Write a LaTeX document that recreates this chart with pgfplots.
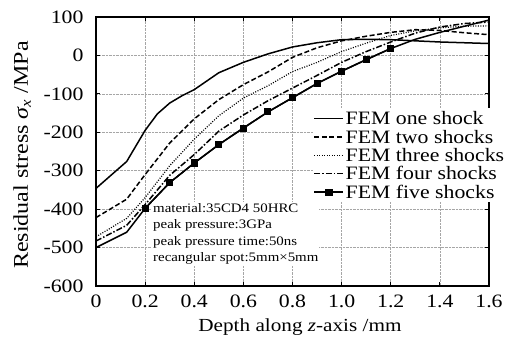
\documentclass[border=0pt]{standalone}
\usepackage{fontspec}
\setmainfont[FakeStretch=1.15]{Liberation Serif}
\usepackage{pgfplots}
\pgfplotsset{compat=1.18}

\begin{document}
\begin{tikzpicture}
\useasboundingbox (-96bp,-61bp) rectangle (409bp,286bp);
\begin{axis}[
  scale only axis, width=393bp, height=269bp,
  xmin=0, xmax=1.6, ymin=-600, ymax=100,
  xtick={0,0.2,0.4,0.6,0.8,1.0,1.2,1.4,1.6},
  xticklabels={0,0.2,0.4,0.6,0.8,1.0,1.2,1.4,1.6},
  ytick={-600,-500,-400,-300,-200,-100,0,100},
  yticklabels={-600,-500,-400,-300,-200,-100,0,100},
  grid=major,
  grid style={densely dotted, gray!70, line width=0.6bp},
  axis line style={line width=1.1bp},
  tick style={black, line width=0.8bp},
  major tick length=4bp,
  ticklabel style={font=\fontsize{19}{19}\selectfont},
  yticklabel style={xshift=-9bp},
  xticklabel style={yshift=-5bp},
  xlabel={Depth along \textit{z}-axis /mm},
  ylabel={Residual stress {\itshape σ}\textsubscript{\itshape x} /MPa},
  xlabel style={at={(axis description cs:0.519,0)}, anchor=center, yshift=-41bp, font=\fontsize{18.5}{18.5}\selectfont},
  ylabel style={at={(axis description cs:-0.188,0.487)}, anchor=center, rotate=0, font=\fontsize{21}{21}\selectfont},
  legend style={at={(axis cs:0.8816,-137)}, anchor=north west, draw=none, fill=white,
    font=\fontsize{19}{19}\selectfont, row sep=0pt, inner sep=1bp,
    nodes={text height=12.5bp, text depth=0bp, inner ysep=2.95bp, inner xsep=1.5bp}},
  legend cell align=left,
  legend image code/.code={\draw[mark repeat=2,mark phase=2,#1] plot coordinates {(0bp,0bp) (14.5bp,0bp) (29bp,0bp)};},
]
\addplot[black, line width=1.5bp] coordinates {
(0,-346) (0.125,-276) (0.2,-195) (0.25,-152) (0.3,-124) (0.35,-105) (0.4,-89) (0.5,-45) (0.6,-18) (0.7,4) (0.8,22) (0.9,33) (1.0,41) (1.1,42) (1.2,41) (1.3,38) (1.4,35) (1.5,33) (1.6,31)};
\addlegendentry{FEM one shock}
\addplot[black, line width=1.5bp, dash pattern=on 5bp off 2.5bp] coordinates {
(0,-422) (0.125,-374) (0.2,-310) (0.3,-228) (0.4,-165) (0.5,-115) (0.6,-76) (0.7,-43) (0.8,-5) (0.9,20) (1.0,38) (1.1,50) (1.2,60) (1.3,67) (1.4,65) (1.5,59) (1.6,54)};
\addlegendentry{FEM two shocks}
\addplot[black, line width=1.2bp, dash pattern=on 1bp off 1.5bp] coordinates {
(0,-472) (0.125,-424) (0.2,-370) (0.3,-287) (0.4,-218) (0.5,-157) (0.6,-111) (0.7,-79) (0.8,-42) (0.9,-18) (1.0,10) (1.1,32) (1.2,52) (1.3,64) (1.4,72) (1.5,76) (1.6,77)};
\addlegendentry{FEM three shocks}
\addplot[black, line width=1.5bp, dash pattern=on 6bp off 2bp on 1.5bp off 2bp] coordinates {
(0,-483) (0.125,-442) (0.2,-388) (0.3,-312) (0.4,-258) (0.5,-197) (0.6,-155) (0.7,-118) (0.8,-85) (0.9,-52) (1.0,-18) (1.1,10) (1.2,35) (1.3,58) (1.4,74) (1.5,83) (1.6,87)};
\addlegendentry{FEM four shocks}
\addplot[black, line width=1.5bp, forget plot] coordinates {
(0,-500) (0.125,-460) (0.2,-398) (0.3,-331) (0.4,-280) (0.5,-232) (0.6,-189) (0.7,-147) (0.8,-110) (0.9,-73) (1.0,-41) (1.1,-11) (1.2,18) (1.3,42) (1.4,60) (1.5,76) (1.6,92)};
\addplot[black, line width=1.5bp, mark=square*, mark size=2.8bp, mark options={solid}] coordinates {
(0.2,-398) (0.3,-331) (0.4,-280) (0.5,-232) (0.6,-189) (0.7,-147) (0.8,-110) (0.9,-73) (1.0,-41) (1.1,-11) (1.2,18)};
\addlegendentry{FEM five shocks}
\node[anchor=north west, fill=white, inner sep=1bp, align=left, font=\fontsize{13}{16.7}\selectfont] at (axis cs:0.228,-381) {material:35CD4 50HRC\\peak pressure:3GPa\\peak pressure time:50ns\\recangular spot:5mm×5mm};
\end{axis}
\end{tikzpicture}
\end{document}
